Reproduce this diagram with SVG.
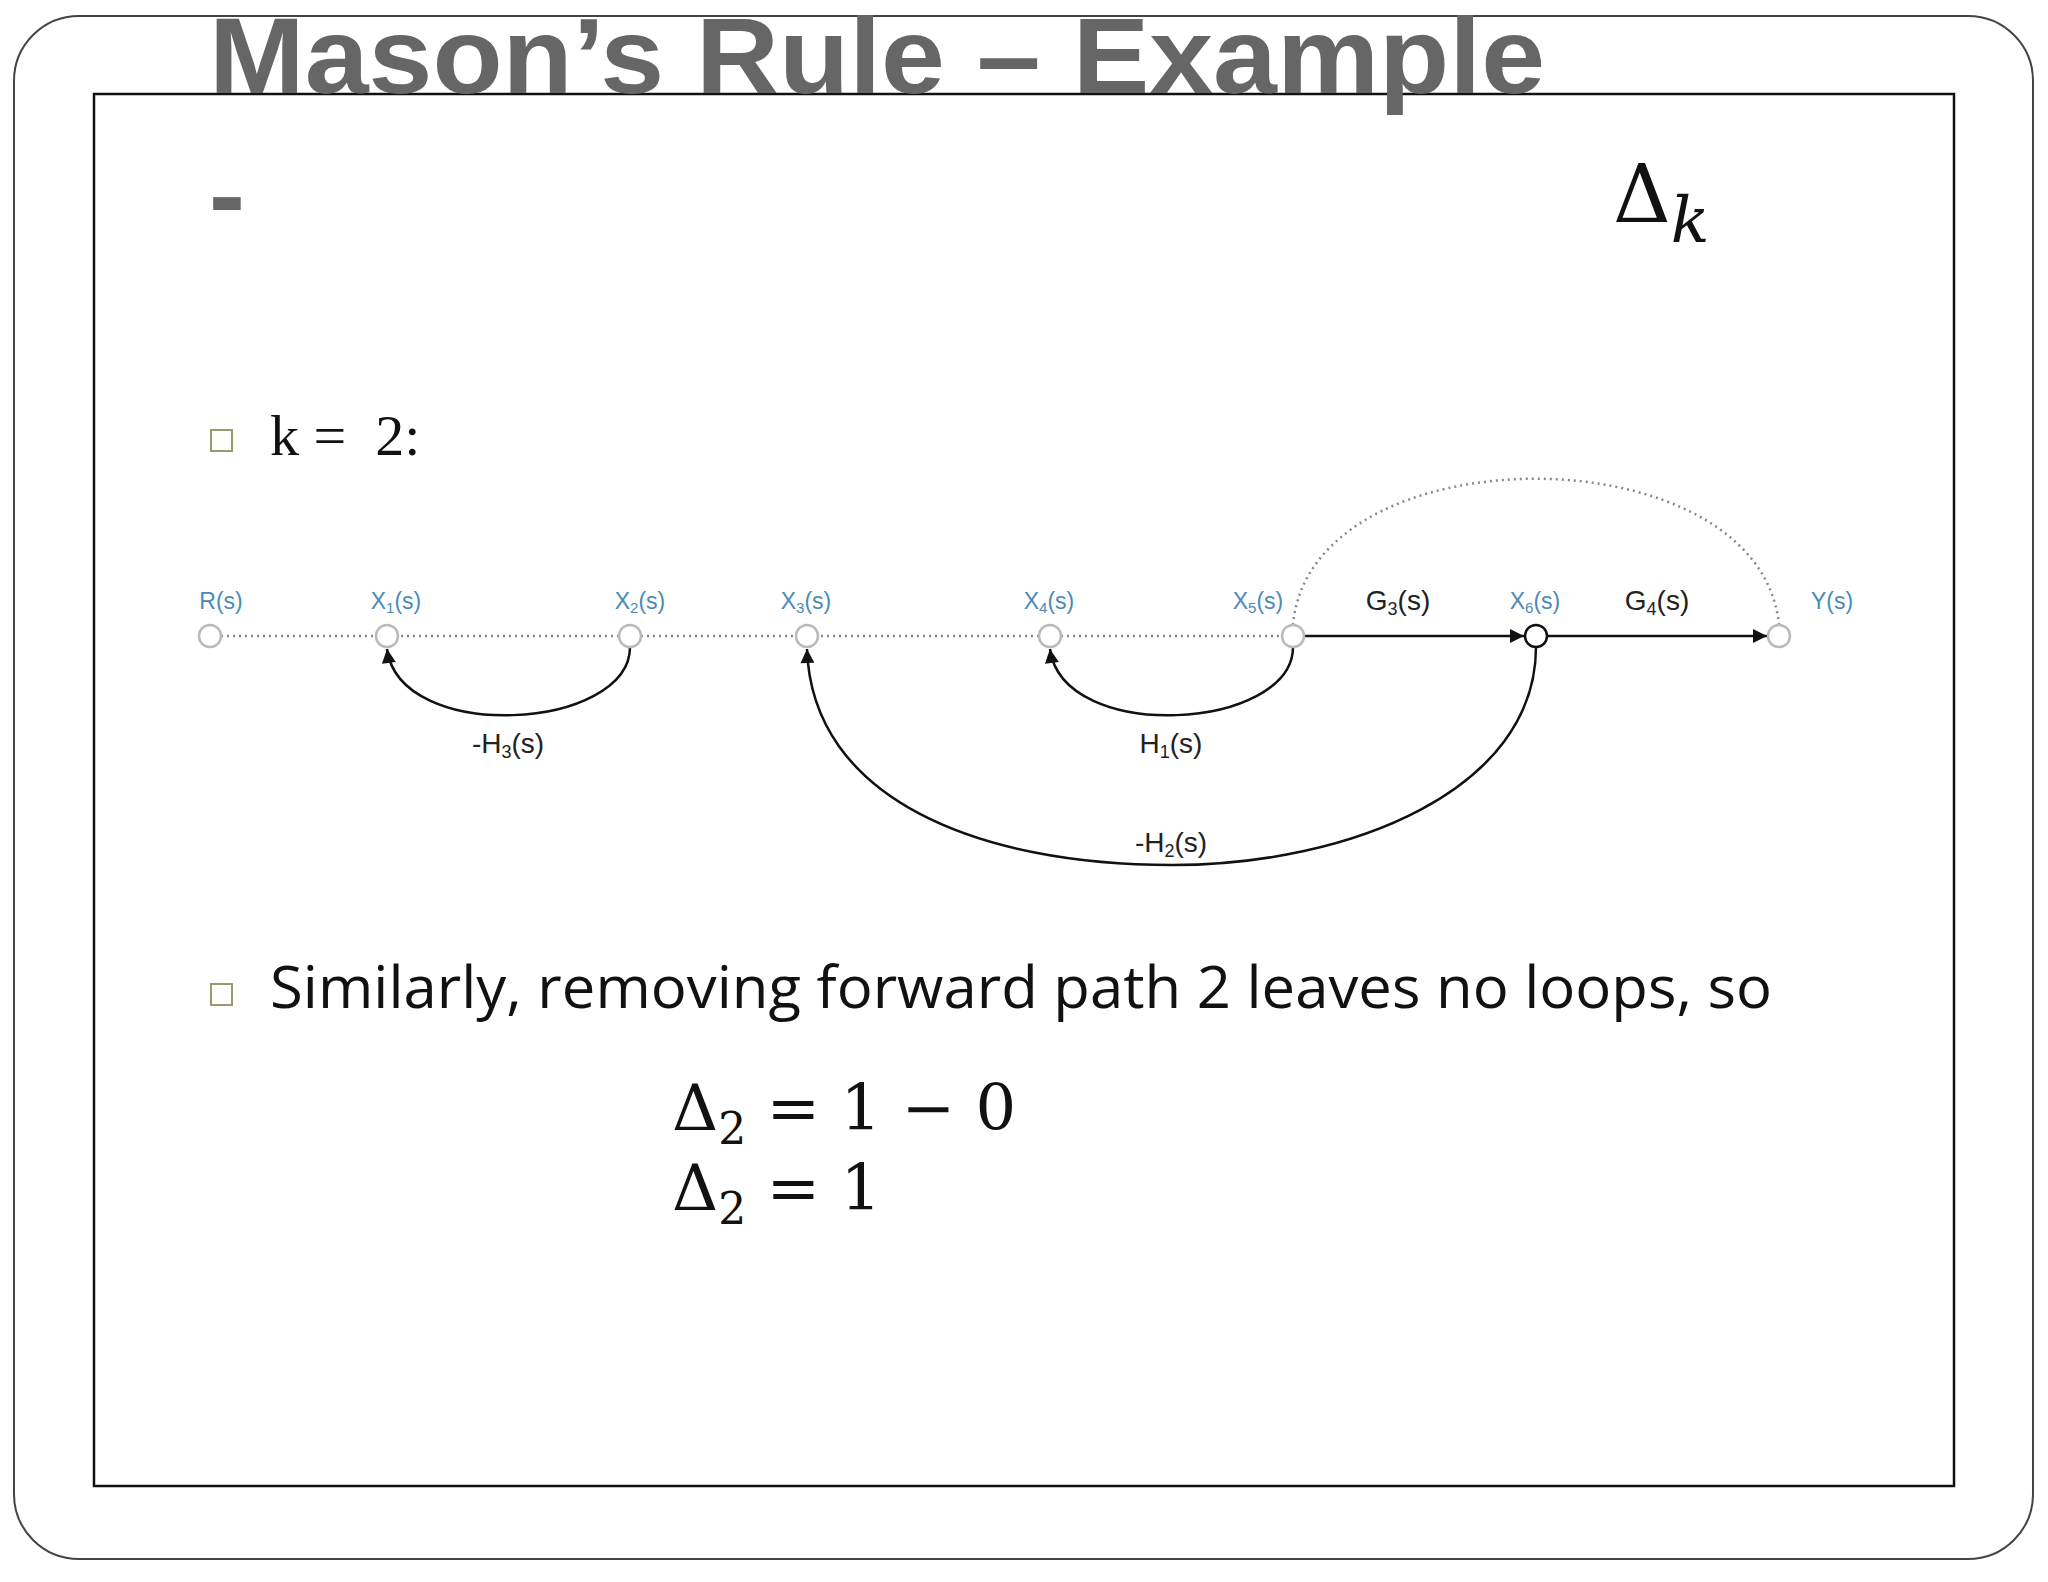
<svg xmlns="http://www.w3.org/2000/svg" width="2048" height="1582" viewBox="0 0 2048 1582">
<defs>
<marker id="ahs" viewBox="0 0 10 10" markerWidth="16" markerHeight="14" refX="10" refY="5" orient="auto" markerUnits="userSpaceOnUse"><path d="M0,0 L10,5 L0,10 z" fill="#111"/></marker>
</defs>
<style>
.node{fill:#fff;stroke:#bbb;stroke-width:2.5}
.nl{font-family:"Liberation Sans",Arial,sans-serif;font-size:23px;fill:#4a8ab8;text-anchor:middle}
.el{font-family:"Liberation Sans",Arial,sans-serif;font-size:28px;fill:#222;text-anchor:middle}
.dot{fill:none;stroke:#888;stroke-width:2.5;stroke-dasharray:2 4}
.solid{fill:none;stroke:#111;stroke-width:2.5}
.math{font-family:"DejaVu Serif","Liberation Serif",serif;fill:#111}
.bul{fill:none;stroke:#9a9a6a;stroke-width:2}
</style>
<rect width="2048" height="1582" fill="#fff"/>
<rect x="14" y="16" width="2019" height="1543" rx="65" fill="none" stroke="#444" stroke-width="2"/>
<rect x="94" y="94" width="1860" height="1392" fill="#fff" stroke="#111" stroke-width="2.5"/>
<text x="209" y="93" font-family="Liberation Sans,Arial,sans-serif" font-weight="bold" font-size="108" fill="#666" textLength="1336" lengthAdjust="spacingAndGlyphs">Mason’s Rule – Example</text>
<text x="209" y="232" font-family="Liberation Sans,Arial,sans-serif" font-weight="bold" font-size="108" fill="#666">-</text>
<text x="1613" y="222" class="math" font-size="80">Δ<tspan font-style="italic" font-size="64" dy="20">k</tspan></text>
<rect x="211" y="430" width="21" height="21" class="bul"/>
<text x="270" y="455" font-family="Liberation Serif,serif" font-size="58" fill="#111" xml:space="preserve">k =  2:</text>
<g id="connectors">
<line x1="221" y1="636" x2="1282" y2="636" class="dot"/>
<path d="M1293,625 C1310,430 1760,430 1779,625" class="dot"/>
<line x1="1304" y1="636" x2="1524" y2="636" class="solid" marker-end="url(#ahs)"/>
<line x1="1547" y1="636" x2="1767" y2="636" class="solid" marker-end="url(#ahs)"/>
<path d="M630,647 C630,730 400,745 387,649" class="solid" marker-end="url(#ahs)"/>
<path d="M1293,647 C1293,730 1063,745 1050,649" class="solid" marker-end="url(#ahs)"/>
<path d="M1536,647 C1536,790 1350,865 1172,865 C980,865 812,800 807,649" class="solid" marker-end="url(#ahs)"/>
</g>
<g id="n-R"><circle cx="210" cy="636" r="11" class="node"/><text x="221" y="609" class="nl">R(s)</text></g>
<g id="n-X1"><circle cx="387" cy="636" r="11" class="node"/><text x="396" y="609" class="nl">X<tspan font-size="15" dy="4">1</tspan><tspan dy="-4">(s)</tspan></text></g>
<g id="n-X2"><circle cx="630" cy="636" r="11" class="node"/><text x="640" y="609" class="nl">X<tspan font-size="15" dy="4">2</tspan><tspan dy="-4">(s)</tspan></text></g>
<g id="n-X3"><circle cx="807" cy="636" r="11" class="node"/><text x="806" y="609" class="nl">X<tspan font-size="15" dy="4">3</tspan><tspan dy="-4">(s)</tspan></text></g>
<g id="n-X4"><circle cx="1050" cy="636" r="11" class="node"/><text x="1049" y="609" class="nl">X<tspan font-size="15" dy="4">4</tspan><tspan dy="-4">(s)</tspan></text></g>
<g id="n-X5"><circle cx="1293" cy="636" r="11" class="node"/><text x="1258" y="609" class="nl">X<tspan font-size="15" dy="4">5</tspan><tspan dy="-4">(s)</tspan></text></g>
<g id="n-X6"><circle cx="1536" cy="636" r="11" fill="#fff" stroke="#111" stroke-width="2.5"/><text x="1535" y="609" class="nl">X<tspan font-size="15" dy="4">6</tspan><tspan dy="-4">(s)</tspan></text></g>
<g id="n-Y"><circle cx="1779" cy="636" r="11" class="node"/><text x="1832" y="609" class="nl">Y(s)</text></g>
<g id="labels">
<text x="1398" y="610" class="el">G<tspan font-size="18" dy="5">3</tspan><tspan dy="-5">(s)</tspan></text>
<text x="1657" y="610" class="el">G<tspan font-size="18" dy="5">4</tspan><tspan dy="-5">(s)</tspan></text>
<text x="508" y="753" class="el">-H<tspan font-size="18" dy="5">3</tspan><tspan dy="-5">(s)</tspan></text>
<text x="1171" y="753" class="el">H<tspan font-size="18" dy="5">1</tspan><tspan dy="-5">(s)</tspan></text>
<text x="1171" y="852" class="el">-H<tspan font-size="18" dy="5">2</tspan><tspan dy="-5">(s)</tspan></text>
</g>
<rect x="211" y="984" width="21" height="21" class="bul"/>
<text x="270" y="1008" font-family="Open Sans,Noto Sans,sans-serif" font-size="58" fill="#111" textLength="1502" lengthAdjust="spacingAndGlyphs">Similarly, removing forward path 2 leaves no loops, so</text>
<text x="672" y="1130" class="math" font-size="64">Δ<tspan font-size="44" dy="14">2</tspan><tspan dy="-14"> = 1 − 0</tspan></text>
<text x="672" y="1210" class="math" font-size="64">Δ<tspan font-size="44" dy="14">2</tspan><tspan dy="-14"> = 1</tspan></text>
</svg>
